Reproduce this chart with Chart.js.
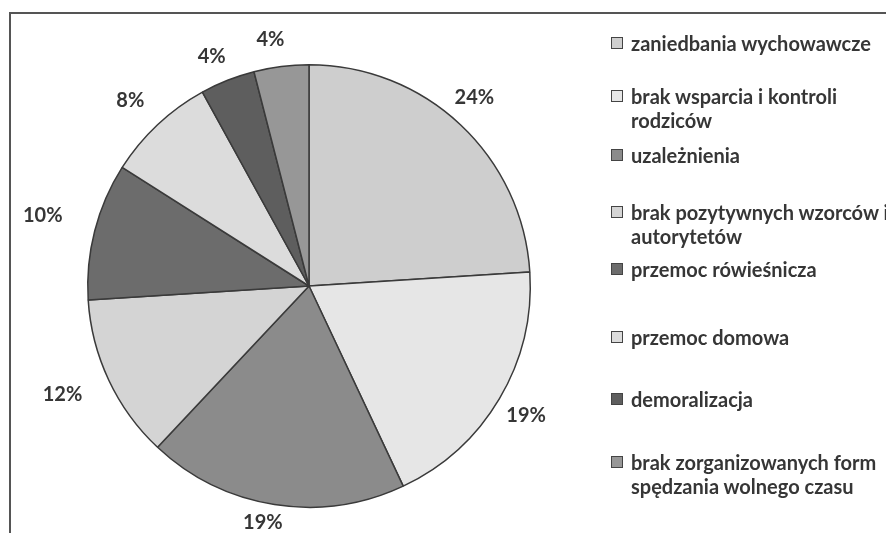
<!DOCTYPE html>
<html>
<head>
<meta charset="utf-8">
<script src="https://cdn.jsdelivr.net/npm/chart.js@4.4.0/dist/chart.umd.min.js"></script>
<style>
    html, body { margin: 0; padding: 0; background: #fff; }
    #wrap { position: relative; width: 886px; height: 533px; overflow: hidden; font-family: Lato, sans-serif; }
    #frame { position: absolute; left: 9px; top: 12px; width: 900px; height: 600px; border-top: 2px solid #555; border-left: 2px solid #555; }
    #c { position: absolute; left: 0; top: 0; }
    .lg { position: absolute; left: 611px; width: 300px; font-weight: bold; font-size: 20px; color: #363636; line-height: 24px; white-space: nowrap; }
    .lg i { position: absolute; left: 0; top: 6px; width: 10px; height: 10px; border: 1px solid #444; }
    .lg span { display: block; padding-left: 20px; }
</style>
</head>
<body>
<div id="wrap">
    <div id="frame"></div>
    <canvas id="c" width="886" height="533"></canvas>
    <div id="legend"></div>
</div>
<script>
const causes = [
    'zaniedbania wychowawcze',
    'brak wsparcia i kontroli rodziców',
    'uzależnienia',
    'brak pozytywnych wzorców i autorytetów',
    'przemoc rówieśnicza',
    'przemoc domowa',
    'demoralizacja',
    'brak zorganizowanych form spędzania wolnego czasu'
];
const shares = [24, 19, 19, 12, 10, 8, 4, 4];
const greys = ['#cecece', '#e6e6e6', '#8b8b8b', '#d4d4d4', '#6c6c6c', '#dcdcdc', '#5e5e5e', '#979797'];

// legend layout (html, wraps like the original)
const legendLines = [
    ['zaniedbania wychowawcze'],
    ['brak wsparcia i kontroli', 'rodziców'],
    ['uzależnienia'],
    ['brak pozytywnych wzorców i', 'autorytetów'],
    ['przemoc rówieśnicza'],
    ['przemoc domowa'],
    ['demoralizacja'],
    ['brak zorganizowanych form', 'spędzania wolnego czasu']
];
const legendTops = [31, 84, 143, 200, 257, 325, 387, 450];

(function () {
    const lg = document.getElementById('legend');
    causes.forEach((c, i) => {
        const d = document.createElement('div');
        d.className = 'lg';
        d.style.top = legendTops[i] + 'px';
        d.title = c;
        d.innerHTML = `<i style="background:${greys[i]}"></i>` + legendLines[i].map(t => `<span>${t}</span>`).join('');
        lg.appendChild(d);
    });
})();

// percent labels outside the pie ("outside end" style)
const outsideLabels = {
    id: 'outsideLabels',
    afterDatasetsDraw(chart) {
        const ctx = chart.ctx;
        const meta = chart.getDatasetMeta(0);
        ctx.save();
        ctx.font = 'bold 20px Lato';
        ctx.fillStyle = '#363636';
        ctx.textAlign = 'center';
        ctx.textBaseline = 'middle';
        meta.data.forEach((arc, i) => {
            const p = arc.getProps(['x', 'y', 'startAngle', 'endAngle', 'outerRadius'], true);
            const mid = (p.startAngle + p.endAngle) / 2;
            const txt = shares[i] + '%';
            const w = ctx.measureText(txt).width;
            const c = Math.cos(mid), s = Math.sin(mid);
            const d = p.outerRadius + Math.max(Math.abs(c) * (w / 2 + 27), Math.abs(s) * 23);
            ctx.fillText(txt, p.x + c * d - 8, p.y + s * d - 4);
        });
        ctx.restore();
    }
};

new Chart(document.getElementById('c').getContext('2d'), {
    type: 'pie',
    data: {
        labels: causes,
        datasets: [{
            data: shares,
            backgroundColor: greys,
            borderColor: '#3a3a3a',
            borderWidth: 1.5
        }]
    },
    options: {
        responsive: false,
        animation: false,
        layout: { padding: { left: 87, right: 355, top: 64, bottom: 25 } },
        plugins: {
            legend: { display: false },
            tooltip: { enabled: false }
        }
    },
    plugins: [outsideLabels]
});
</script>
</body>
</html>
